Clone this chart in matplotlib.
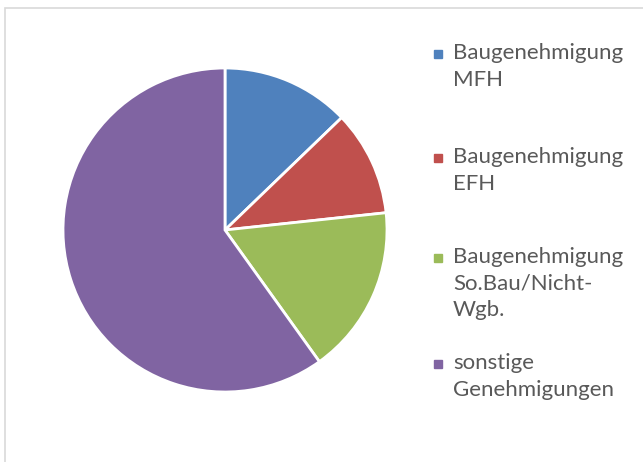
import matplotlib.pyplot as plt
from matplotlib.patches import Rectangle

labels = ["Baugenehmigung\nMFH", "Baugenehmigung\nEFH",
          "Baugenehmigung\nSo.Bau/Nicht-\nWgb.", "sonstige\nGenehmigungen"]
values = [12.8, 10.5, 16.8, 59.9]
colors = ["#4F81BD", "#C0504D", "#9BBB59", "#8064A2"]

W, H = 643, 462
fig = plt.figure(figsize=(W / 100, H / 100), dpi=100)

# light chart-area border
fig.patches.append(Rectangle((5 / W, -0.1), 1.0, (H - 8) / H + 0.1,
                             transform=fig.transFigure, fill=False,
                             edgecolor="#D9D9D9", linewidth=1.2))

cx, cy, r = 225, 230, 162
ax = fig.add_axes([(cx - r) / W, (H - cy - r) / H, 2 * r / W, 2 * r / H])
ax.pie(values, colors=colors, startangle=90, counterclock=False,
       wedgeprops=dict(edgecolor="white", linewidth=2))
ax.set_xlim(-1, 1)
ax.set_ylim(-1, 1)
ax.set_aspect("equal")

# legend drawn by hand
tops = [54, 158, 258, 364]
for lab, col, y in zip(labels, colors, tops):
    fig.patches.append(Rectangle((434 / W, 1 - (y + 4) / H), 8 / W, 8 / H,
                                 transform=fig.transFigure, color=col))
    fig.text(453 / W, 1 - (y - 11) / H, lab, ha="left", va="top",
             fontsize=16, family="Lato", color="#595959", linespacing=1.42)

fig.savefig("out.png", dpi=100)
